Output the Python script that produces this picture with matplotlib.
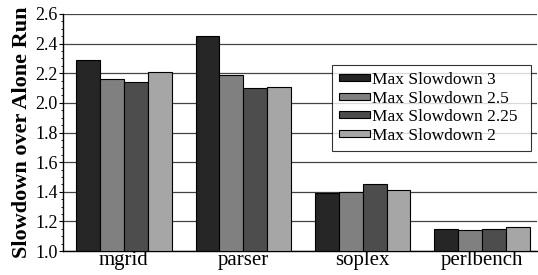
import matplotlib
matplotlib.use("Agg")
import matplotlib.pyplot as plt
import numpy as np
from matplotlib.ticker import MultipleLocator

benchmarks = ['mgrid', 'parser', 'soplex', 'perlbench']
series_names = ['Max Slowdown 3', 'Max Slowdown 2.5', 'Max Slowdown 2.25', 'Max Slowdown 2']
slow_3 = [2.29, 2.45, 1.39, 1.15]
slow_25 = [2.16, 2.19, 1.40, 1.14]
slow_225 = [2.14, 2.10, 1.45, 1.15]
slow_2 = [2.21, 2.11, 1.41, 1.16]

colors = ['#262626', '#808080', '#4d4d4d', '#a6a6a6']

plt.rcParams['font.family'] = ['Liberation Serif', 'DejaVu Serif']

fig = plt.figure(figsize=(5.38, 2.75), dpi=100)
ax = fig.add_axes([63 / 538, 1 - 251 / 275, (537 - 63) / 538, (251 - 14) / 275])

x = np.arange(len(benchmarks))
w = 0.2
for i, (vals, name) in enumerate(zip([slow_3, slow_25, slow_225, slow_2], series_names)):
    ax.bar(x + (i - 1.5) * w, np.array(vals) - 1.0, w, bottom=1.0, color=colors[i],
           edgecolor='black', linewidth=0.8, label=name, zorder=3)

ax.set_xlim(-0.51, 3.46)
ax.set_ylim(1.0, 2.6)
ax.yaxis.set_major_locator(MultipleLocator(0.2))
ax.yaxis.set_minor_locator(MultipleLocator(0.05))
ax.yaxis.set_major_formatter(matplotlib.ticker.FormatStrFormatter('%.1f'))
ax.grid(axis='y', color='#444444', linewidth=0.9, zorder=0)
ax.set_xticks(x)
ax.set_xticklabels(benchmarks, fontsize=15)
ax.tick_params(axis='x', length=0, pad=0)
ax.tick_params(axis='y', which='major', direction='out', length=3, labelsize=13, pad=1)
ax.tick_params(axis='y', which='minor', direction='out', length=1.5)
for s in ['top', 'right']:
    ax.spines[s].set_visible(False)
ax.spines['left'].set_linewidth(1)
ax.spines['bottom'].set_linewidth(1)
ax.set_ylabel('Slowdown over Alone Run', fontsize=16, fontweight='bold', labelpad=2)

# legend box spans a fixed region, as in the original
lx0 = (332 - 63) / 474
lx1 = (531 - 63) / 474
ly1 = (251 - 65) / 237
ly0 = (251 - 148) / 237
leg = ax.legend(loc='upper left', bbox_to_anchor=(lx0, ly0, lx1 - lx0, ly1 - ly0), mode='expand',
                fontsize=12.5, frameon=True, fancybox=False, edgecolor='black',
                handlelength=1.8, handleheight=0.25, handletextpad=0.1,
                labelspacing=0.15, borderpad=0.4, borderaxespad=0)
leg.get_frame().set_linewidth(0.8)
leg.set_zorder(5)

fig.savefig('out.png', dpi=100)
